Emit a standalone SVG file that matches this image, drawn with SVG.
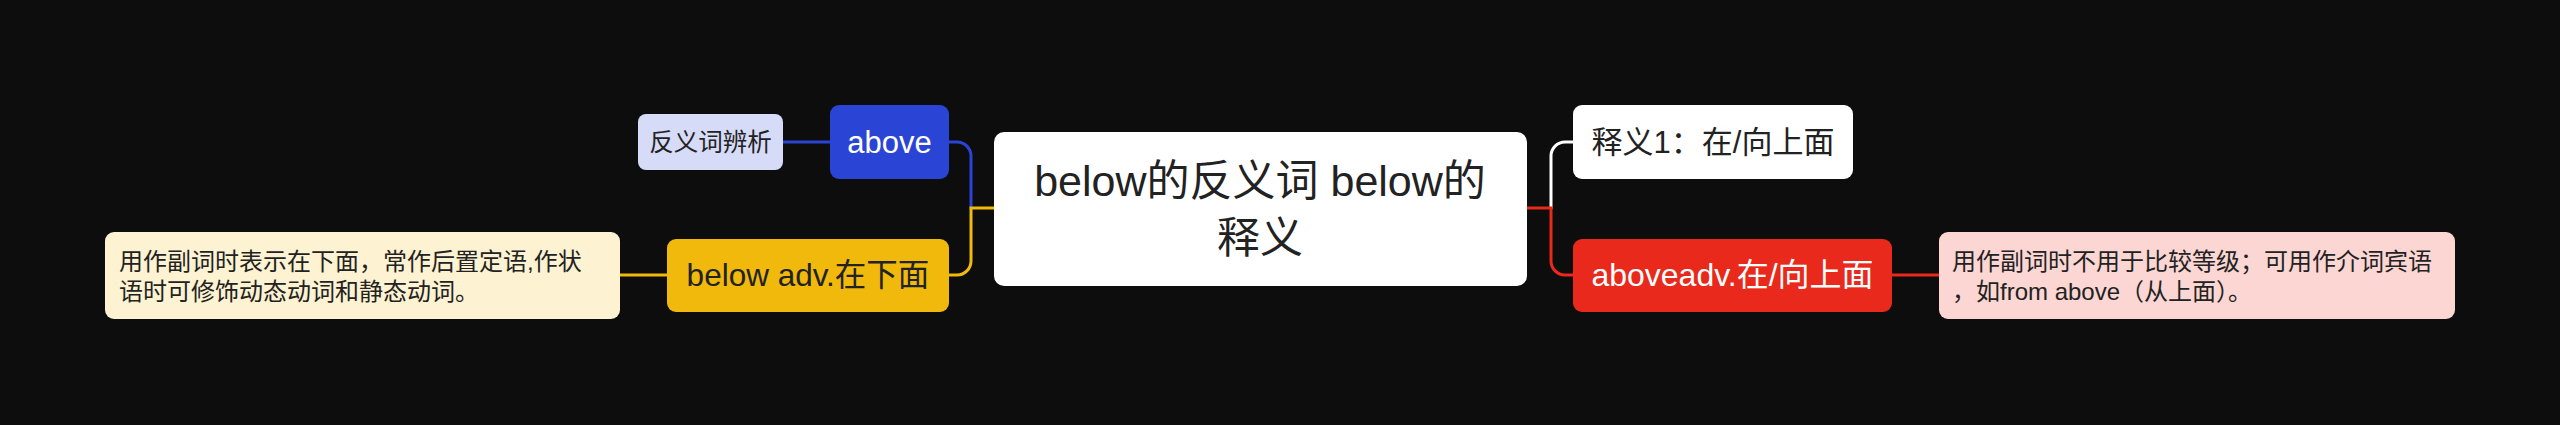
<svg xmlns="http://www.w3.org/2000/svg" width="2560" height="425" viewBox="0 0 2560 425">
<style>
text{font-family:"Liberation Sans","Noto Sans CJK SC",sans-serif;}
.dark{fill:#222222;}
.light{fill:#ffffff;}
.c{text-anchor:middle;}
.ln{fill:none;stroke-width:3;stroke-linecap:round;}
</style>
<rect x="0" y="0" width="2560" height="425" fill="#0d0d0d"/>
<g id="connectors">
<path class="ln" stroke="#2a45d6" d="M783 142 H830"/>
<path class="ln" stroke="#2a45d6" d="M949 142 H957 A14 14 0 0 1 971 156 V208"/>
<path class="ln" stroke="#f0b90b" d="M994 208 H971 V261 A14 14 0 0 1 957 275 H949"/>
<path class="ln" stroke="#f0b90b" d="M667 275 H620"/>
<path class="ln" stroke="#ffffff" d="M1551 208 V156 A14 14 0 0 1 1565 142 H1573"/>
<path class="ln" stroke="#e8291b" d="M1527 208 H1551 V261 A14 14 0 0 0 1565 275 H1573"/>
<path class="ln" stroke="#e8291b" d="M1892 275 H1939"/>
</g>
<g id="center">
<rect x="994" y="132" width="533" height="154" rx="10" fill="#ffffff"/>
<text class="dark c" x="1260" y="196" font-size="43">below的反义词 below的</text>
<text class="dark c" x="1260" y="253" font-size="43">释义</text>
</g>
<g id="above">
<rect x="830" y="105" width="119" height="74" rx="9" fill="#2a45d6"/>
<text class="light c" x="889.5" y="153" font-size="31">above</text>
</g>
<g id="fanyi">
<rect x="638" y="114" width="145" height="56" rx="8" fill="#d6dbf8"/>
<text class="dark c" x="710.5" y="151" font-size="24.5">反义词辨析</text>
</g>
<g id="below-adv">
<rect x="667" y="239" width="282" height="73" rx="9" fill="#f0b90b"/>
<text class="dark c" x="808" y="286" font-size="31.5">below adv.在下面</text>
</g>
<g id="below-note">
<rect x="105" y="232" width="515" height="87" rx="9" fill="#fdf2d1"/>
<text class="dark" x="119" y="270" font-size="24">用作副词时表示在下面，常作后置定语,作状</text>
<text class="dark" x="119" y="300" font-size="24">语时可修饰动态动词和静态动词。</text>
</g>
<g id="shiyi1">
<rect x="1573" y="105" width="280" height="74" rx="9" fill="#ffffff"/>
<text class="dark c" x="1713" y="153" font-size="31">释义1：在/向上面</text>
</g>
<g id="aboveadv">
<rect x="1573" y="239" width="319" height="73" rx="9" fill="#e8291b"/>
<text class="light c" x="1732.5" y="286" font-size="32">aboveadv.在/向上面</text>
</g>
<g id="above-note">
<rect x="1939" y="232" width="516" height="87" rx="9" fill="#fcd6d3"/>
<text class="dark" x="1952" y="270" font-size="24">用作副词时不用于比较等级；可用作介词宾语</text>
<text class="dark" x="1952" y="300" font-size="24">，如from above（从上面）。</text>
</g>
</svg>
